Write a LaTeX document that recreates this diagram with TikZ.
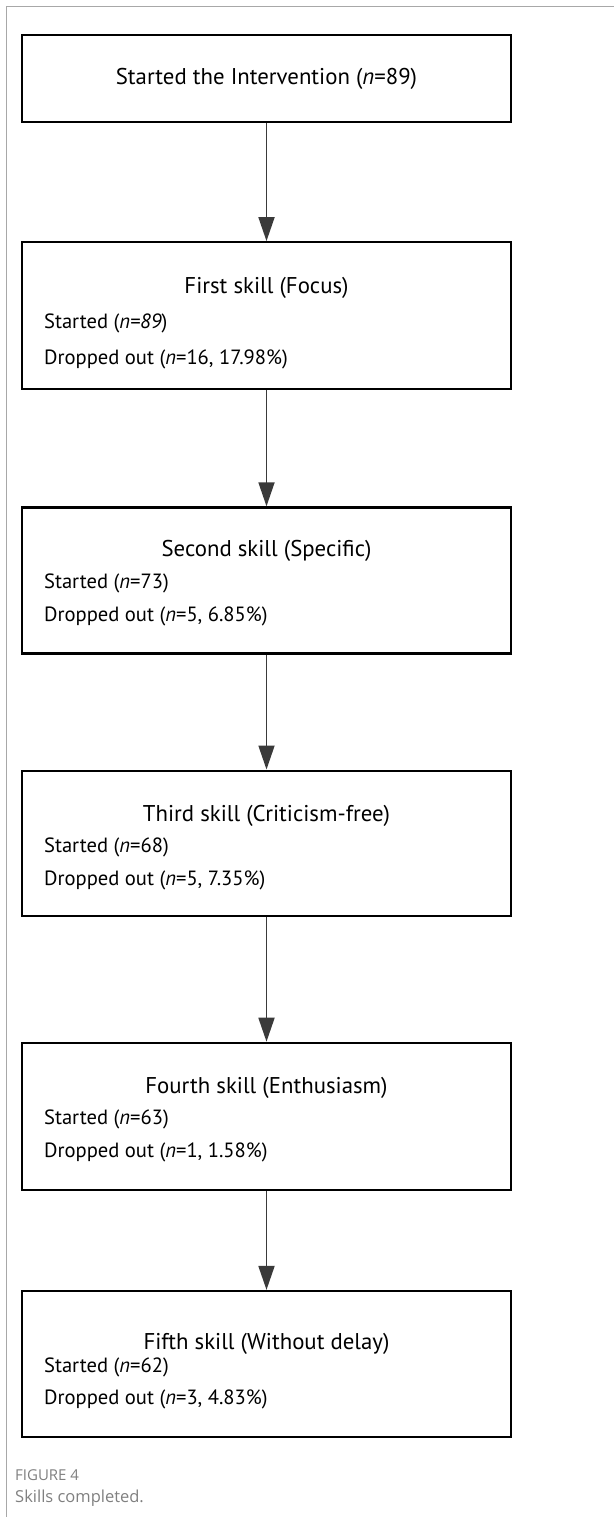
\documentclass[tikz,border=0pt]{standalone}
\usepackage{fontspec}
\setmainfont{PT Sans}
\newfontfamily\captionfont{Open Sans}
\usetikzlibrary{positioning, arrows.meta}
\definecolor{arrowgray}{HTML}{3A3A3A}
\definecolor{framegray}{HTML}{A8A8A8}
\definecolor{captiongray}{HTML}{808080}

\begin{document}
\begin{tikzpicture}[x=1pt, y=-1pt,
            skillbox/.style={rectangle, draw=black, line width=2.2pt, minimum width=489pt, inner sep=0pt},
            headtext/.style={font=\fontsize{22.8}{26}\selectfont, inner sep=0pt},
            bodytext/.style={font=\fontsize{20.6}{24}\selectfont, anchor=west, inner sep=0pt},
            flow/.style={draw=arrowgray, line width=1.8pt, -{Triangle[length=24pt, width=16pt]}}]
            \useasboundingbox (0,0) rectangle (614,1517);
            % Page frame
            \draw[framegray, line width=1pt] (6,1517) -- (6,7) -- (614,7);

            % Boxes
            \node[skillbox, minimum height=87pt] (start) at (266.5,78.5) {};
            \node[skillbox, minimum height=147pt, below=118pt of start] (first) {};
            \node[skillbox, minimum height=146pt, below=116pt of first] (second) {};
            \node[skillbox, minimum height=145pt, below=115pt of second] (third) {};
            \node[skillbox, minimum height=147pt, below=125pt of third] (fourth) {};
            \node[skillbox, minimum height=146pt, below=99pt of fourth] (fifth) {};

            % Box texts
            \node[headtext] (starttitle) at (start.center) {Started the Intervention (\textit{n}=89)};

            \node[headtext] (firsttitle) at ([yshift=-47pt]first.north) {First skill (Focus)};
            \node[bodytext] (firststart) at ([xshift=23pt, yshift=-82pt]first.north west) {Started (\textit{n=89})};
            \node[bodytext] (firstdrop) at ([xshift=23pt, yshift=-118pt]first.north west) {Dropped out (\textit{n}=16, 17.98\%)};

            \node[headtext] (secondtitle) at ([yshift=-45pt]second.north) {Second skill (Specific)};
            \node[bodytext] (secondstart) at ([xshift=23pt, yshift=-77pt]second.north west) {Started (\textit{n}=73)};
            \node[bodytext] (seconddrop) at ([xshift=23pt, yshift=-110pt]second.north west) {Dropped out (\textit{n}=5, 6.85\%)};

            \node[headtext] (thirdtitle) at ([yshift=-46pt]third.north) {Third skill (Criticism-free)};
            \node[bodytext] (thirdstart) at ([xshift=23pt, yshift=-78pt]third.north west) {Started (\textit{n}=68)};
            \node[bodytext] (thirddrop) at ([xshift=23pt, yshift=-111pt]third.north west) {Dropped out (\textit{n}=5, 7.35\%)};

            \node[headtext] (fourthtitle) at ([yshift=-46pt]fourth.north) {Fourth skill (Enthusiasm)};
            \node[bodytext] (fourthstart) at ([xshift=23pt, yshift=-78pt]fourth.north west) {Started (\textit{n}=63)};
            \node[bodytext] (fourthdrop) at ([xshift=23pt, yshift=-111pt]fourth.north west) {Dropped out (\textit{n}=1, 1.58\%)};

            \node[headtext] (fifthtitle) at ([yshift=-54pt]fifth.north) {Fifth skill (Without delay)};
            \node[bodytext] (fifthstart) at ([xshift=23pt, yshift=-78pt]fifth.north west) {Started (\textit{n}=62)};
            \node[bodytext] (fifthdrop) at ([xshift=23pt, yshift=-110pt]fifth.north west) {Dropped out (\textit{n}=3, 4.83\%)};

            % Arrows
            \draw[flow] (start) -- (first);
            \draw[flow] (first) -- (second);
            \draw[flow] (second) -- (third);
            \draw[flow] (third) -- (fourth);
            \draw[flow] (fourth) -- (fifth);

            % Caption
            \node[anchor=west, inner sep=0pt, text=captiongray, font=\captionfont\fontsize{15}{18}\selectfont] (figlabel) at (15,1475) {FIGURE 4};
            \node[anchor=west, inner sep=0pt, text=captiongray, font=\captionfont\fontsize{16.5}{20}\selectfont] (figcaption) at (15,1498) {Skills completed.};
        \end{tikzpicture}
\end{document}
